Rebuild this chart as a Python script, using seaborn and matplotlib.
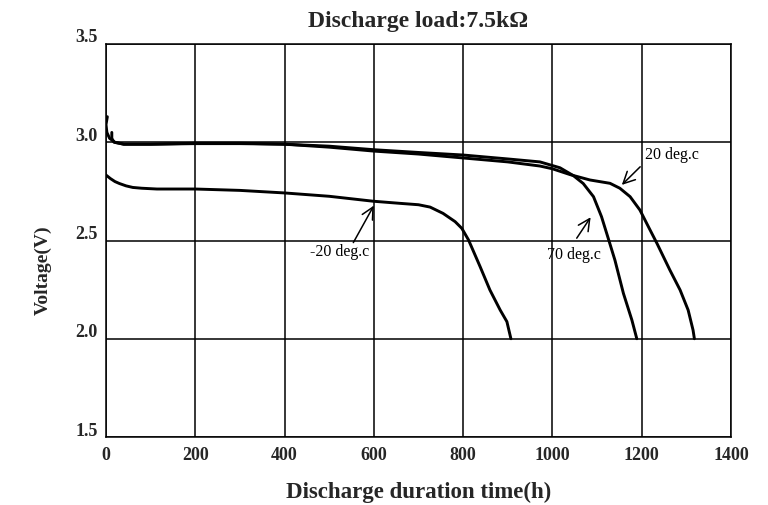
import matplotlib
matplotlib.use("Agg")
import matplotlib.pyplot as plt
import matplotlib.transforms as mtransforms
import seaborn as sns
import pandas as pd

# ---- data ----
t20 = [13, 13, 18, 40, 100, 200, 300, 400, 500, 600, 700, 800, 900, 972, 1000,
       1040, 1084, 1129, 1151, 1174, 1196, 1215, 1234, 1263, 1286, 1304, 1315, 1318]
v20 = [3.05, 3.02, 3.0, 2.99, 2.99, 2.993, 2.993, 2.99, 2.975, 2.955, 2.94, 2.92,
       2.90, 2.879, 2.865, 2.835, 2.808, 2.791, 2.766, 2.723, 2.655, 2.57, 2.486,
       2.35, 2.248, 2.146, 2.044, 2.0]

t70 = [3, 0, 2, 8, 20, 40, 100, 200, 300, 400, 500, 600, 700, 800, 900, 972,
       1017, 1047, 1069, 1092, 1110, 1125, 1140, 1159, 1178, 1189]
v70 = [3.13, 3.09, 3.05, 3.02, 3.0, 2.99, 2.99, 2.995, 2.995, 2.99, 2.98, 2.962,
       2.948, 2.935, 2.915, 2.90, 2.87, 2.83, 2.79, 2.723, 2.621, 2.511, 2.40,
       2.231, 2.095, 2.0]

tm20 = [0, 10, 20, 30, 45, 60, 80, 114, 200, 300, 400, 500, 598, 659, 700, 726,
        755, 782, 797, 812, 838, 860, 883, 898, 907]
vm20 = [2.833, 2.815, 2.80, 2.79, 2.778, 2.77, 2.766, 2.762, 2.762, 2.755, 2.742,
        2.725, 2.70, 2.689, 2.682, 2.67, 2.638, 2.596, 2.562, 2.503, 2.367, 2.248,
        2.146, 2.087, 2.0]

x_ticks = [0, 200, 400, 600, 800, 1000, 1200, 1400]
y_ticks = [1.5, 2.0, 2.5, 3.0, 3.5]

labels = ["20 deg.c", "70 deg.c", "-20 deg.c"]
label_pos = [(1207, 2.935), (988, 2.426), (457, 2.44)]
arrow_tail = [(1201, 2.885), (1051, 2.50), (551, 2.477)]
arrow_head = [(1151, 2.773), (1089, 2.63), (603, 2.69)]

# ---- plotting ----
sns.set_theme(style="white")
plt.rcParams["font.family"] = ["Liberation Serif", "DejaVu Serif"]

fig = plt.figure(figsize=(7.68, 5.05), dpi=100)
ax = fig.add_axes([106 / 768, 1 - 437 / 505, 625 / 768, 393 / 505])

for t, v in [(t20, v20), (t70, v70), (tm20, vm20)]:
    df = pd.DataFrame({"t": t, "v": v})
    sns.lineplot(data=df, x="t", y="v", sort=False, estimator=None,
                 color="black", linewidth=2.1, ax=ax,
                 solid_joinstyle="round", solid_capstyle="round")

ax.set_xlim(0, 1400)
ax.set_ylim(1.5, 3.5)
ax.set_xticks(x_ticks)
ax.set_yticks(y_ticks)
ax.set_xticklabels([str(v) for v in x_ticks], fontsize=13, fontweight="bold")
ax.set_yticklabels([f"{v:.1f}" for v in y_ticks], fontsize=13, fontweight="bold")
ax.tick_params(axis="both", length=0)
ax.tick_params(axis="x", pad=7)
ax.tick_params(axis="y", pad=6)
ax.grid(True, color="black", linewidth=1.1)
for s in ax.spines.values():
    s.set_color("black")
    s.set_linewidth(1.1)

# shift y tick labels upwards like the reference
off = mtransforms.ScaledTranslation(0, 8 / 100, fig.dpi_scale_trans)
for lab in ax.get_yticklabels():
    lab.set_transform(lab.get_transform() + off)

ax.set_xlabel("Discharge duration time(h)", fontsize=16.5, fontweight="bold", labelpad=13)
ax.set_ylabel("Voltage(V)", fontsize=14, fontweight="bold")
ax.yaxis.set_label_coords(-0.087, 0.425)
ax.set_title("Discharge load:7.5k\u03A9", fontsize=17, fontweight="bold", pad=12)

for lab, pos, tail, head in zip(labels, label_pos, arrow_tail, arrow_head):
    ax.text(pos[0], pos[1], lab, fontsize=11.5, ha="left", va="center", color="black")
    ax.annotate("", xy=head, xytext=tail,
                arrowprops=dict(arrowstyle="->,head_length=0.7,head_width=0.35",
                                color="black", lw=1.1))

fig.savefig("out.png", dpi=100)
